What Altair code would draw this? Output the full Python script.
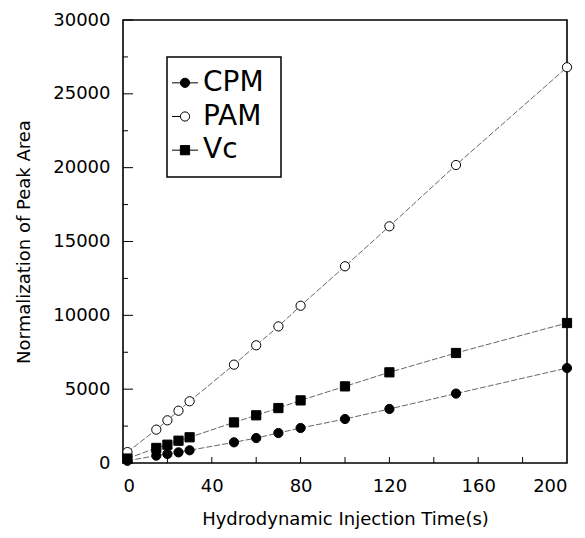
import altair as alt
import pandas as pd

# ---- data ----
times = [2, 15, 20, 25, 30, 50, 60, 70, 80, 100, 120, 150, 200]
cpm = [150, 500, 610, 720, 860, 1400, 1690, 2030, 2370, 2980, 3660, 4700, 6430]
pam = [740, 2260, 2890, 3540, 4180, 6660, 7970, 9250, 10650, 13320, 16030, 20180, 26800]
vc = [300, 1020, 1240, 1510, 1740, 2750, 3230, 3720, 4240, 5190, 6140, 7450, 9480]
series_names = ["CPM", "PAM", "Vc"]

x_ticks = [0, 40, 80, 120, 160, 200]
x_minor = [20, 40, 60, 80, 100, 120, 140, 160, 180]
y_ticks = [0, 5000, 10000, 15000, 20000, 25000, 30000]
y_minor = [2500, 7500, 12500, 17500, 22500, 27500]

rows = []
for name, vals in zip(series_names, [cpm, pam, vc]):
    for t, v in zip(times, vals):
        rows.append({"t": t, "v": v, "s": name})
df = pd.DataFrame(rows)
leg_df = pd.DataFrame({"s": series_names})

W, H = 444, 443
FONT = "DejaVu Sans"

xscale = alt.Scale(domain=[0, 200], nice=False)
yscale = alt.Scale(domain=[0, 30000], nice=False)
xaxis = alt.Axis(values=x_ticks, title="Hydrodynamic Injection Time(s)", ticks=False,
                 domain=False, grid=False, labelPadding=14, titlePadding=15,
                 labelFontSize=18, titleFontSize=18, format="d")
yaxis = alt.Axis(values=y_ticks, title="Normalization of Peak Area", ticks=False,
                 domain=False, grid=False, labelPadding=13, titlePadding=19,
                 labelFontSize=18, titleFontSize=18, format="d")

X = lambda f: alt.X(f, scale=xscale, axis=xaxis)
Y = lambda f: alt.Y(f, scale=yscale, axis=yaxis)

lines = alt.Chart(df).mark_line(color="#555", strokeWidth=0.9, strokeDash=[6, 2]).encode(
    x=X("t:Q"), y=Y("v:Q"), detail="s:N",
)

shape_scale = alt.Scale(domain=series_names, range=["circle", "circle", "square"])
fill_scale = alt.Scale(domain=series_names, range=["black", "white", "black"])
size_scale = alt.Scale(domain=series_names, range=[85, 85, 50])

points = alt.Chart(df).mark_point(filled=True, stroke="black", strokeWidth=1, opacity=1).encode(
    x=X("t:Q"), y=Y("v:Q"),
    shape=alt.Shape("s:N", scale=shape_scale, legend=None),
    fill=alt.Fill("s:N", scale=fill_scale, legend=None),
    size=alt.Size("s:N", scale=size_scale, legend=None),
)

ytick_major = alt.Chart(pd.DataFrame({"v": y_ticks})).mark_rule(color="black", strokeWidth=1).encode(
    y=Y("v:Q"), x=alt.value(0), x2=alt.value(10))
ytick_minor = alt.Chart(pd.DataFrame({"v": y_minor})).mark_rule(color="black", strokeWidth=1).encode(
    y=Y("v:Q"), x=alt.value(0), x2=alt.value(5))
xtick = alt.Chart(pd.DataFrame({"t": x_minor})).mark_rule(color="black", strokeWidth=1).encode(
    x=X("t:Q"), y=alt.value(H), y2=alt.value(H - 6))

main = alt.layer(lines, ytick_major, ytick_minor, xtick, points)

# ---- hand-built legend box ----
LY = alt.Y("s:N", scale=alt.Scale(domain=series_names, range=[46, 147]), axis=None)
box = alt.Chart(pd.DataFrame({"a": [0]})).mark_rect(
    fill="white", stroke="black", strokeWidth=1.5
).encode(x=alt.value(44), x2=alt.value(158), y=alt.value(37), y2=alt.value(157))
seg_left = alt.Chart(leg_df).mark_rule(color="black", strokeWidth=1).encode(
    y=LY, x=alt.value(49), x2=alt.value(62))
seg_right = alt.Chart(leg_df).transform_filter("datum.s != 'PAM'").mark_rule(
    color="black", strokeWidth=1).encode(y=LY, x=alt.value(62), x2=alt.value(75))
leg_pts = alt.Chart(leg_df).mark_point(filled=True, stroke="black", strokeWidth=1, opacity=1).encode(
    y=LY, x=alt.value(62),
    shape=alt.Shape("s:N", scale=shape_scale, legend=None),
    fill=alt.Fill("s:N", scale=fill_scale, legend=None),
    size=alt.Size("s:N", scale=size_scale, legend=None),
)
leg_txt = alt.Chart(leg_df).mark_text(
    align="left", baseline="middle", fontSize=28, font=FONT, color="black"
).encode(y=LY, x=alt.value(80), text="s:N")
legend = alt.layer(box, seg_left, seg_right, leg_pts, leg_txt)

chart = alt.layer(main, legend).resolve_scale(
    y="independent"
).properties(
    width=W, height=H,
    autosize=alt.AutoSizeParams(type="none"),
    padding={"left": 115, "top": 12, "right": 10, "bottom": 67},
).configure_view(
    stroke="black", strokeWidth=1.6
).configure_axis(
    labelFont=FONT, titleFont=FONT, labelColor="black", titleColor="black",
    titleFontWeight="normal",
)

chart.save("out.html", embed_options={"renderer": "svg", "actions": False})
